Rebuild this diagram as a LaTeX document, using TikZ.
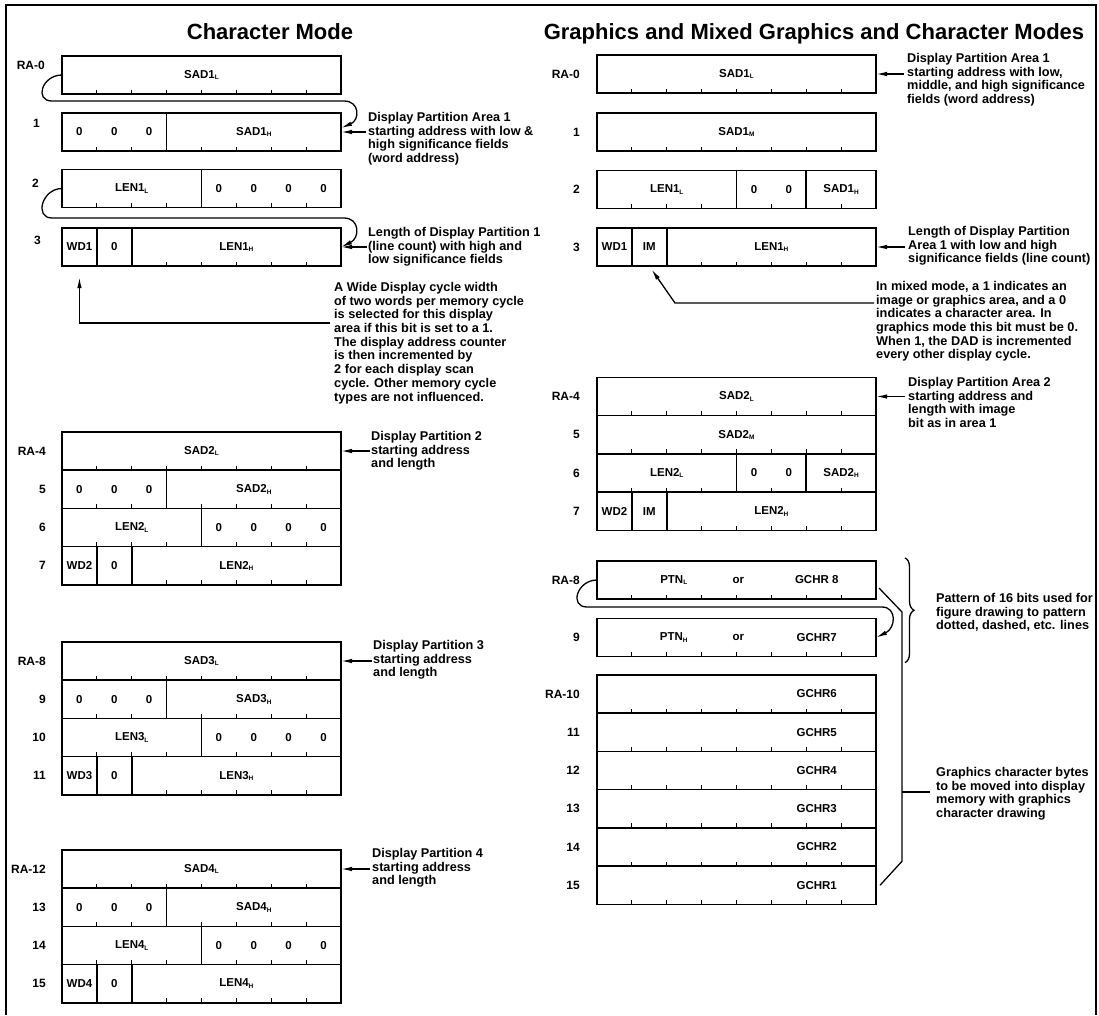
\documentclass[tikz,border=0pt]{standalone}
\usepackage{fontspec}
\setmainfont{Liberation Sans}
\usetikzlibrary{arrows.meta,decorations.pathreplacing}
\newcommand{\fsub}[1]{\raisebox{-1.5pt}{\fontsize{6.5}{6.5}\selectfont #1}}
\newcommand{\bw}{34.875pt}
% 一行寄存器: 名字, x, y, 分隔位, 字段
\newcommand{\regrow}[5]{%
  \node[box] (#1) at (#2,#3) {};
  \foreach \k in {1,...,7} \draw[tick] ([xshift=\k*\bw]#1.south west) -- ++(0pt,4.5pt);
  \foreach \d in {#4} \draw[sep] ([xshift=\d*\bw]#1.south west) -- ([xshift=\d*\bw]#1.north west);
  \foreach \p/\lab [count=\i] in {#5} \node[fld] (#1f\i) at ([xshift=\p*\bw]#1.west) {\lab};
}
\begin{document}
\begin{tikzpicture}[x=1pt, y=-1pt, >={Latex[length=11pt,width=4.5pt]},
    box/.style={draw, line width=1.7pt, minimum width=279pt, minimum height=38.25pt, inner sep=0pt, outer sep=0pt},
    sep/.style={line width=1.7pt},
    tick/.style={line width=1.1pt},
    fld/.style={inner sep=0pt, font=\fontsize{11.5}{12}\selectfont\bfseries},
    rl/.style={anchor=east, inner sep=0pt, font=\fontsize{12}{12}\selectfont\bfseries},
    txt/.style={anchor=north west, align=left, inner sep=0pt, font=\fontsize{12.7}{13.7}\selectfont\bfseries},
    title/.style={anchor=base, inner sep=0pt, font=\fontsize{22}{24}\selectfont\bfseries},
    arr/.style={->, line width=1.3pt},
    conn/.style={line width=1.3pt}]
  \useasboundingbox (0,0) rectangle (1099,1015);
  % 外框 (底边开口)
  \draw[line width=1.8pt] (6,1015) -- (6,5) -- (1096,5) -- (1096,1015);
  \node[title] (tc) at (270,39.5) {Character Mode};
  \node[title] (tg) at (814,39.5) {Graphics and Mixed Graphics and Character Modes};

  % 左栏: 字符模式
  \regrow{c0}{201.5}{75}{0}{4/SAD1\fsub{L}}
  \regrow{c1}{201.5}{132}{3}{0.5/0,1.5/0,2.5/0,5.5/SAD1\fsub{H}}
  \regrow{c2}{201.5}{188.5}{4}{2/LEN1\fsub{L},4.5/0,5.5/0,6.5/0,7.5/0}
  \regrow{c3}{201.5}{247}{1,2}{0.5/WD1,1.5/0,5/LEN1\fsub{H}}
  \regrow{c4}{201.5}{451}{0}{4/SAD2\fsub{L}}
  \regrow{c5}{201.5}{489.25}{3}{0.5/0,1.5/0,2.5/0,5.5/SAD2\fsub{H}}
  \regrow{c6}{201.5}{527.5}{4}{2/LEN2\fsub{L},4.5/0,5.5/0,6.5/0,7.5/0}
  \regrow{c7}{201.5}{565.75}{1,2}{0.5/WD2,1.5/0,5/LEN2\fsub{H}}
  \regrow{c8}{201.5}{661}{0}{4/SAD3\fsub{L}}
  \regrow{c9}{201.5}{699.25}{3}{0.5/0,1.5/0,2.5/0,5.5/SAD3\fsub{H}}
  \regrow{c10}{201.5}{737.5}{4}{2/LEN3\fsub{L},4.5/0,5.5/0,6.5/0,7.5/0}
  \regrow{c11}{201.5}{775.75}{1,2}{0.5/WD3,1.5/0,5/LEN3\fsub{H}}
  \regrow{c12}{201.5}{869}{0}{4/SAD4\fsub{L}}
  \regrow{c13}{201.5}{907.25}{3}{0.5/0,1.5/0,2.5/0,5.5/SAD4\fsub{H}}
  \regrow{c14}{201.5}{945.5}{4}{2/LEN4\fsub{L},4.5/0,5.5/0,6.5/0,7.5/0}
  \regrow{c15}{201.5}{983.75}{1,2}{0.5/WD4,1.5/0,5/LEN4\fsub{H}}
  \foreach \n/\lab/\x/\y in {c0/RA-0/45/65, c1/1/40/123, c2/2/39/183, c3/3/41/240}
    \node[rl] (l\n) at (\x,\y) {\lab};
  \foreach \n/\lab in {c4/RA-4,c5/5,c6/6,c7/7,c8/RA-8,c9/9,c10/10,c11/11,c12/RA-12,c13/13,c14/14,c15/15}
    \node[rl] (l\n) at ([xshift=-16pt]\n.west) {\lab};

  % 右栏: 图形及混合模式
  \regrow{g0}{736.5}{74}{0}{4/SAD1\fsub{L}}
  \regrow{g1}{736.5}{132}{0}{4/SAD1\fsub{M}}
  \regrow{g2}{736.5}{189.5}{4,6}{2/LEN1\fsub{L},4.5/0,5.5/0,7/SAD1\fsub{H}}
  \regrow{g3}{736.5}{247}{1,2}{0.5/WD1,1.5/IM,5/LEN1\fsub{H}}
  \regrow{g4}{736.5}{396.5}{0}{4/SAD2\fsub{L}}
  \regrow{g5}{736.5}{434.75}{0}{4/SAD2\fsub{M}}
  \regrow{g6}{736.5}{473}{4,6}{2/LEN2\fsub{L},4.5/0,5.5/0,7/SAD2\fsub{H}}
  \regrow{g7}{736.5}{511.25}{1,2}{0.5/WD2,1.5/IM,5/LEN2\fsub{H}}
  \regrow{g8}{736.5}{580}{0}{2.2/PTN\fsub{L},4.05/or,6.3/GCHR 8}
  \regrow{g9}{736.5}{637.5}{0}{2.2/PTN\fsub{H},4.05/or,6.3/GCHR7}
  \regrow{g10}{736.5}{694}{0}{6.3/GCHR6}
  \regrow{g11}{736.5}{732.25}{0}{6.3/GCHR5}
  \regrow{g12}{736.5}{770.5}{0}{6.3/GCHR4}
  \regrow{g13}{736.5}{808.75}{0}{6.3/GCHR3}
  \regrow{g14}{736.5}{847}{0}{6.3/GCHR2}
  \regrow{g15}{736.5}{885.25}{0}{6.3/GCHR1}
  \foreach \n/\lab in {g0/RA-0,g1/1,g2/2,g3/3,g4/RA-4,g5/5,g6/6,g7/7,g8/RA-8,g9/9,g10/RA-10,g11/11,g12/12,g13/13,g14/14,g15/15}
    \node[rl] (l\n) at ([xshift=-17pt]\n.west) {\lab};

  % 说明文字
  \node[txt] (tL1) at (368,112) {Display Partition Area 1\\starting address with low \&\\high significance fields\\(word address)};
  \node[txt] (tL2) at (368,227) {Length of Display Partition 1\\(line count) with high and\\low significance fields};
  \node[txt] (tL3) at (334,282) {A Wide Display cycle width\\of two words per memory cycle\\is selected for this display\\area if this bit is set to a 1.\\The display address counter\\is then incremented by\\2 for each display scan\\cycle. Other memory cycle\\types are not influenced.};
  \node[txt] (tL4) at (371,431) {Display Partition 2\\starting address\\and length};
  \node[txt] (tL5) at (373,640) {Display Partition 3\\starting address\\and length};
  \node[txt] (tL6) at (372,848) {Display Partition 4\\starting address\\and length};
  \node[txt] (tR1) at (907,53) {Display Partition Area 1\\starting address with low,\\middle, and high significance\\fields (word address)};
  \node[txt] (tR2) at (908,226) {Length of Display Partition\\Area 1 with low and high\\significance fields (line count)};
  \node[txt] (tR3) at (876,281) {In mixed mode, a 1 indicates an\\image or graphics area, and a 0\\indicates a character area. In\\graphics mode this bit must be 0.\\When 1, the DAD is incremented\\every other display cycle.};
  \node[txt] (tR4) at (908,377) {Display Partition Area 2\\starting address and\\length with image\\bit as in area 1};
  \node[txt] (tR5) at (936,593) {Pattern of 16 bits used for\\figure drawing to pattern\\dotted, dashed, etc. lines};
  \node[txt] (tR6) at (936,767) {Graphics character bytes\\to be moved into display\\memory with graphics\\character drawing};

  % 指向寄存器的箭头
  \foreach \n/\d in {c1/25,c3/26,c4/29,c8/31,c12/29,g0/28,g3/29,g4/29} {
    \coordinate (a\n) at ([xshift=\d pt]\n.east);
    \draw[arr] (a\n) -- (\n.east);
  }
  \draw[arr] (c0.west) .. controls (42,75) and (34,101) .. (52,101) -- (344,101)
    .. controls (360,101) and (360,120) .. ([yshift=4pt]c1.east);
  \draw[arr] (c2.west) .. controls (42,188.5) and (34,218) .. (52,218) -- (344,218)
    .. controls (360,218) and (360,238) .. (c3.east);
  \draw[arr] (g8.west) .. controls (577,580) and (569,607) .. (587,607) -- (882,607)
    .. controls (897,607) and (896,628) .. (g9.east);

  % WD / IM 位的说明箭头
  \coordinate (w1) at (330,323);
  \coordinate (wd1) at ([xshift=0.5*\bw]c3.south west);
  \draw[arr, shorten >=11pt] (w1) -| (wd1);
  \coordinate (m1) at (874,303);
  \coordinate (im1) at ([xshift=1.5*\bw]g3.south west);
  \draw[arr, shorten >=4pt] (m1) -- ++(-199,0) -- (im1);

  % 括号
  \draw[conn, decorate, decoration={brace, amplitude=9pt}]
    ([shift={(29pt,3pt)}]g8.north east) -- ([shift={(29pt,-6pt)}]g9.south east);
  \coordinate (b2) at ([shift={(26pt,24pt)}]g15.east);
  \draw[conn] ([shift={(3pt,-8pt)}]g8.east) -- ++(23,24) coordinate (b1) -- (b1 |- b2) -- ([xshift=4pt]g15.east);
  \coordinate (gt) at (930,792);
  \draw[conn] (gt) -- (gt -| b1);
\end{tikzpicture}
\end{document}
